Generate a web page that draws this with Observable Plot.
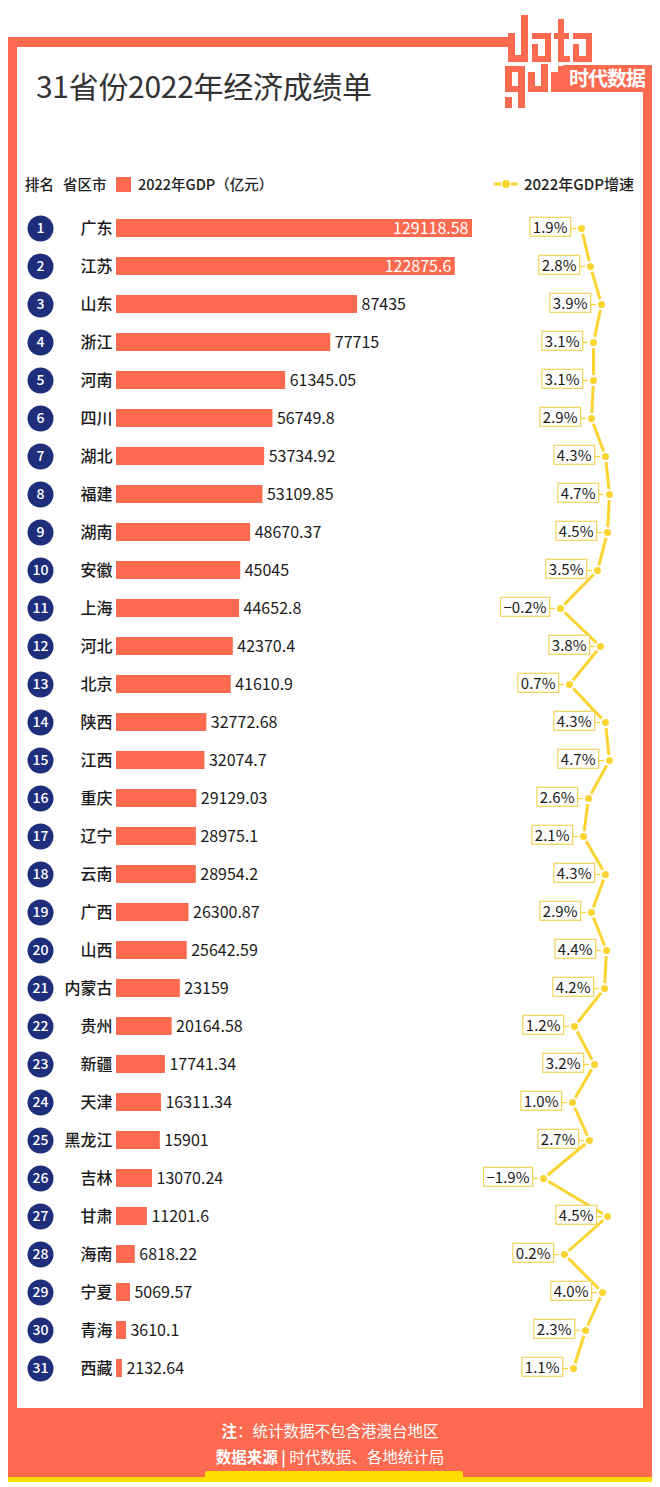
<!DOCTYPE html>
<html><head><meta charset="utf-8">
<script src="https://cdn.jsdelivr.net/npm/d3@7"></script>
<script src="https://cdn.jsdelivr.net/npm/@observablehq/plot@0.6"></script>
<style>
html,body{margin:0;padding:0;background:#fff;}
body{width:660px;height:1487px;position:relative;overflow:hidden;font-family:"Noto Sans CJK SC","Noto Sans",sans-serif;color:#222;}
.abs{position:absolute;}
.or{background:#fe6a4f;}
#title{left:36px;top:68px;font-size:30px;line-height:34px;color:#333;white-space:nowrap;letter-spacing:-0.3px;}
.leg{font-size:14.5px;line-height:18px;top:175px;color:#222;white-space:nowrap;font-weight:500;}
.foot{left:8px;width:644px;text-align:center;color:#fff;white-space:nowrap;}
</style></head><body>
<!-- frame -->
<div class="abs or" style="left:8px;top:37px;width:502px;height:10px"></div>
<div class="abs or" style="left:8px;top:37px;width:9px;height:1443px"></div>
<div class="abs or" style="left:643px;top:65px;width:9px;height:1415px"></div>
<div class="abs or" style="left:8px;top:1408px;width:644px;height:72px"></div>
<div class="abs" style="left:8px;top:1477px;width:644px;height:5px;background:#ffdd00"></div>
<div class="abs" style="left:205px;top:1471px;width:258px;height:8px;background:#ffdd00;border-radius:2px 2px 0 0"></div>
<!-- logo -->
<svg class="abs" style="left:495px;top:8px" width="165" height="110" viewBox="495 8 165 110">
<g fill="#fe6a4f">
<rect x="505" y="37" width="8" height="8"/>
<rect x="508" y="33" width="7" height="29"/><rect x="521" y="15" width="7" height="47"/><rect x="508" y="55" width="20" height="7"/>
<rect x="532" y="33" width="19" height="6"/><rect x="532" y="44" width="6" height="18"/><rect x="545" y="33" width="6" height="29"/><rect x="532" y="56" width="19" height="6"/>
<rect x="558" y="19" width="6" height="43"/><rect x="554" y="33" width="15" height="6"/><rect x="558" y="56" width="12" height="6"/>
<rect x="573" y="33" width="19" height="6"/><rect x="573" y="44" width="6" height="18"/><rect x="586" y="33" width="6" height="29"/><rect x="573" y="56" width="19" height="6"/>
<rect x="505" y="66" width="20" height="6"/><rect x="505" y="66" width="7" height="26"/><rect x="518" y="66" width="7" height="42"/><rect x="505" y="86" width="20" height="6"/><rect x="505" y="97" width="7" height="11"/>
<rect x="528" y="72" width="7" height="20"/><rect x="541" y="64" width="7" height="28"/><rect x="528" y="86" width="20" height="6"/>
<rect x="551" y="72" width="7" height="20"/><rect x="558" y="66" width="5" height="26"/>
<rect x="563" y="65" width="89" height="27"/>
</g>
<text x="607" y="86" text-anchor="middle" fill="#fff" font-size="20" font-weight="700" font-family="Noto Sans CJK SC" letter-spacing="-1">时代数据</text>
</svg>
<div id="title" class="abs">31省份2022年经济成绩单</div>
<div class="abs leg" style="left:25px">排名</div>
<div class="abs leg" style="left:63px">省区市</div>
<div class="abs" style="left:116px;top:177px;width:15px;height:15px;background:#fe6a4f"></div>
<div class="abs leg" style="left:138px">2022年GDP（亿元）</div>
<svg class="abs" style="left:492px;top:176px" width="30" height="16">
<line x1="2" y1="8" x2="9" y2="8" stroke="#fbd431" stroke-width="3"/>
<line x1="19" y1="8" x2="26" y2="8" stroke="#fbd431" stroke-width="3"/>
<circle cx="14" cy="8" r="4" fill="#fbd431"/>
</svg>
<div class="abs leg" style="left:524px;font-size:15px">2022年GDP增速</div>
<div class="abs foot" style="top:1419px;font-size:15.5px;line-height:22px"><b>注</b>：统计数据不包含港澳台地区</div>
<div class="abs foot" style="top:1445px;font-size:15.5px;line-height:22px"><b>数据来源 | </b>时代数据、各地统计局</div>
<div id="c1" class="abs" style="left:0;top:207px"></div>
<div id="c2" class="abs" style="left:0;top:207px"></div>
<script>
const provinces = ["广东","江苏","山东","浙江","河南","四川","湖北","福建","湖南","安徽","上海","河北","北京","陕西","江西","重庆","辽宁","云南","广西","山西","内蒙古","贵州","新疆","天津","黑龙江","吉林","甘肃","海南","宁夏","青海","西藏"];
const gdp = [129118.58,122875.6,87435,77715,61345.05,56749.8,53734.92,53109.85,48670.37,45045,44652.8,42370.4,41610.9,32772.68,32074.7,29129.03,28975.1,28954.2,26300.87,25642.59,23159,20164.58,17741.34,16311.34,15901,13070.24,11201.6,6818.22,5069.57,3610.1,2132.64];
const growth = [1.9,2.8,3.9,3.1,3.1,2.9,4.3,4.7,4.5,3.5,-0.2,3.8,0.7,4.3,4.7,2.6,2.1,4.3,2.9,4.4,4.2,1.2,3.2,1.0,2.7,-1.9,4.5,0.2,4.0,2.3,1.1];

const data = provinces.map((name, i) => ({
  rank: String(i + 1), name, gdp: gdp[i], growth: growth[i],
  gdpLabel: String(gdp[i]),
  growthLabel: (growth[i] < 0 ? "−" : "") + Math.abs(growth[i]).toFixed(1) + "%"
}));

const ORANGE = "#fe6a4f", NAVY = "#1f2e7b", YELLOW = "#fbd431";
const H = 1181;
const font = "'Noto Sans CJK SC','Noto Sans',sans-serif";
const inside = d => d.gdp > 100000;

const p1 = Plot.plot({
  width: 660, height: H,
  marginLeft: 0, marginRight: 0, marginTop: 0, marginBottom: 0,
  style: {fontFamily: font, background: "transparent", overflow: "visible"},
  x: {domain: [0, 129118.58], range: [116, 472], axis: null},
  y: {domain: provinces, range: [0, H], paddingInner: 0.53, paddingOuter: 0.265, axis: null},
  marks: [
    Plot.barX(data, {x: "gdp", y: "name", fill: ORANGE}),
    Plot.dot(data, {y: "name", frameAnchor: "left", dx: 40, r: 13, fill: NAVY}),
    Plot.text(data, {y: "name", text: "rank", frameAnchor: "left", dx: 40, textAnchor: "middle", fill: "#fff", fontSize: 14, fontWeight: 500}),
    Plot.text(data, {y: "name", text: "name", frameAnchor: "left", dx: 112, textAnchor: "end", fill: "#1a1a1a", fontSize: 16, fontWeight: 500}),
    Plot.text(data.filter(inside), {x: "gdp", y: "name", text: "gdpLabel", textAnchor: "end", dx: -4, fill: "#fff", fontSize: 16}),
    Plot.text(data.filter(d => !inside(d)), {x: "gdp", y: "name", text: "gdpLabel", textAnchor: "start", dx: 4, fill: "#1a1a1a", fontSize: 16})
  ]
});
document.getElementById("c1").append(p1);

const step = H / 31;
const p2 = Plot.plot({
  width: 660, height: H,
  marginLeft: 0, marginRight: 0, marginTop: 0, marginBottom: 0,
  style: {fontFamily: font, background: "transparent", overflow: "visible"},
  x: {domain: [-1.9, 4.7], range: [543, 609], axis: null},
  y: {type: "point", domain: provinces, range: [step / 2, H - step / 2], padding: 0, axis: null},
  marks: [
    Plot.line(data, {x: "growth", y: "name", stroke: YELLOW, strokeWidth: 3}),
    Plot.ruleY(data, {x1: "growth", x2: "growth", y: "name", insetLeft: -11, insetRight: 4, stroke: YELLOW, strokeWidth: 1.2}),
    Plot.dot(data, {x: "growth", y: "name", r: 4.5, fill: YELLOW, stroke: "#fff", strokeWidth: 2}),
    Plot.text(data, {x: "growth", y: "name", text: "growthLabel", textAnchor: "end", dx: -14, fill: "#1a1a1a", fontSize: 15})
  ]
});
document.getElementById("c2").append(p2);

// boxes around the growth labels
p2.querySelectorAll('g[aria-label="text"]').forEach(g => {
  g.querySelectorAll("text").forEach(t => {
    const b = t.getBBox();
    const r = document.createElementNS("http://www.w3.org/2000/svg", "rect");
    const cy = b.y + b.height / 2;
    r.setAttribute("x", b.x - 3);
    r.setAttribute("y", cy - 9.5);
    r.setAttribute("width", b.width + 6);
    r.setAttribute("height", 19);
    r.setAttribute("fill", "#fff");
    r.setAttribute("stroke", "#f3d35a");
    r.setAttribute("stroke-width", "1.2");
    if (t.getAttribute("transform")) r.setAttribute("transform", t.getAttribute("transform"));
    t.parentNode.insertBefore(r, t);
  });
});
</script>
</body></html>
